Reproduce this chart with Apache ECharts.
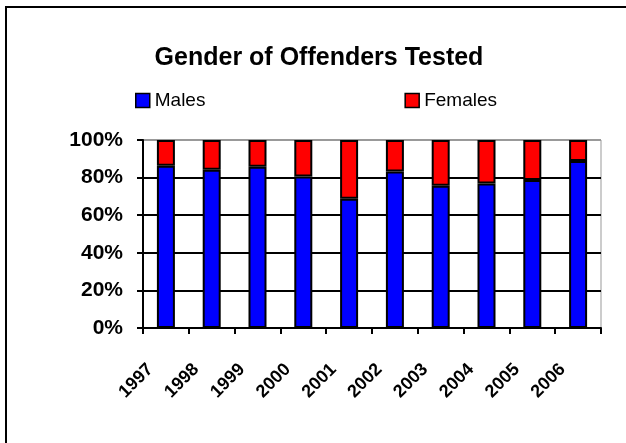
<!DOCTYPE html>
<html>
<head>
<meta charset="utf-8">
<script src="https://cdn.jsdelivr.net/npm/echarts@6/dist/echarts.min.js"></script>
<style>
  html, body { margin: 0; padding: 0; background: #fff; }
  #chart { width: 626px; height: 443px; }
</style>
</head>
<body>
<div id="chart"></div>
<script>
// share of offenders tested, by year (percent)
var years = ['1997', '1998', '1999', '2000', '2001', '2002', '2003', '2004', '2005', '2006']
var males = [86.3, 84.2, 85.8, 80.6, 68.8, 83.3, 75.7, 76.9, 78.7, 88.8]
var females = [13.7, 15.8, 14.2, 19.4, 31.2, 16.7, 24.3, 23.1, 21.3, 11.2]

var font = 'Liberation Sans, Arial, sans-serif'
var myChart = echarts.init(document.getElementById('chart'))

var option = {
  backgroundColor: '#fff',
  animation: false,
  graphic: [
    {
      type: 'rect',
      shape: { x: 6, y: 7, width: 700, height: 600 },
      style: { fill: 'none', stroke: '#000', lineWidth: 2 },
    },
  ],
  title: {
    text: 'Gender of Offenders Tested',
    left: 319,
    top: 46,
    textAlign: 'center',
    padding: 0,
    textStyle: {
      fontFamily: font,
      fontWeight: 'bold',
      fontSize: 25,
      color: '#000',
    },
  },
  legend: {
    left: 135,
    top: 91,
    padding: 0,
    itemWidth: 14,
    itemHeight: 14,
    itemGap: 199,
    icon: 'rect',
    itemStyle: {
      borderColor: '#000',
      borderWidth: 1.5,
    },
    textStyle: {
      fontFamily: font,
      fontSize: 19,
      color: '#000',
    },
    data: ['Males', 'Females'],
  },
  grid: {
    left: 143,
    right: 25,
    top: 140,
    bottom: 115,
    show: true,
    borderColor: '#999',
    borderWidth: 1,
  },
  xAxis: {
    type: 'category',
    data: years,
    axisLine: { lineStyle: { color: '#000', width: 2 } },
    axisTick: { show: true, length: 6, lineStyle: { color: '#000', width: 2 } },
    axisLabel: {
      rotate: 45,
      margin: 23,
      interval: 0,
      padding: [0, 22, 0, 0],
      fontFamily: font,
      fontWeight: 'bold',
      fontSize: 18,
      color: '#000',
    },
    splitLine: { show: false },
  },
  yAxis: {
    type: 'value',
    min: 0,
    max: 100,
    interval: 20,
    axisLine: { show: true, lineStyle: { color: '#000', width: 2 } },
    axisTick: { show: true, length: 6, lineStyle: { color: '#000', width: 2 } },
    axisLabel: {
      margin: 20,
      formatter: '{value}%',
      fontFamily: font,
      fontWeight: 'bold',
      fontSize: 21,
      color: '#000',
    },
    splitLine: {
      show: true,
      lineStyle: {
        color: ['#000', '#000', '#000', '#000', '#000', '#999'],
        width: 2,
      },
    },
  },
  series: [
    {
      name: 'Males',
      type: 'bar',
      stack: 'total',
      barWidth: 18,
      data: males,
      itemStyle: { color: '#0000ff', borderColor: '#000', borderWidth: 2 },
    },
    {
      name: 'Females',
      type: 'bar',
      stack: 'total',
      barWidth: 18,
      data: females,
      itemStyle: { color: '#ff0000', borderColor: '#000', borderWidth: 2 },
    },
  ],
}
myChart.setOption(option)
</script>
</body>
</html>
